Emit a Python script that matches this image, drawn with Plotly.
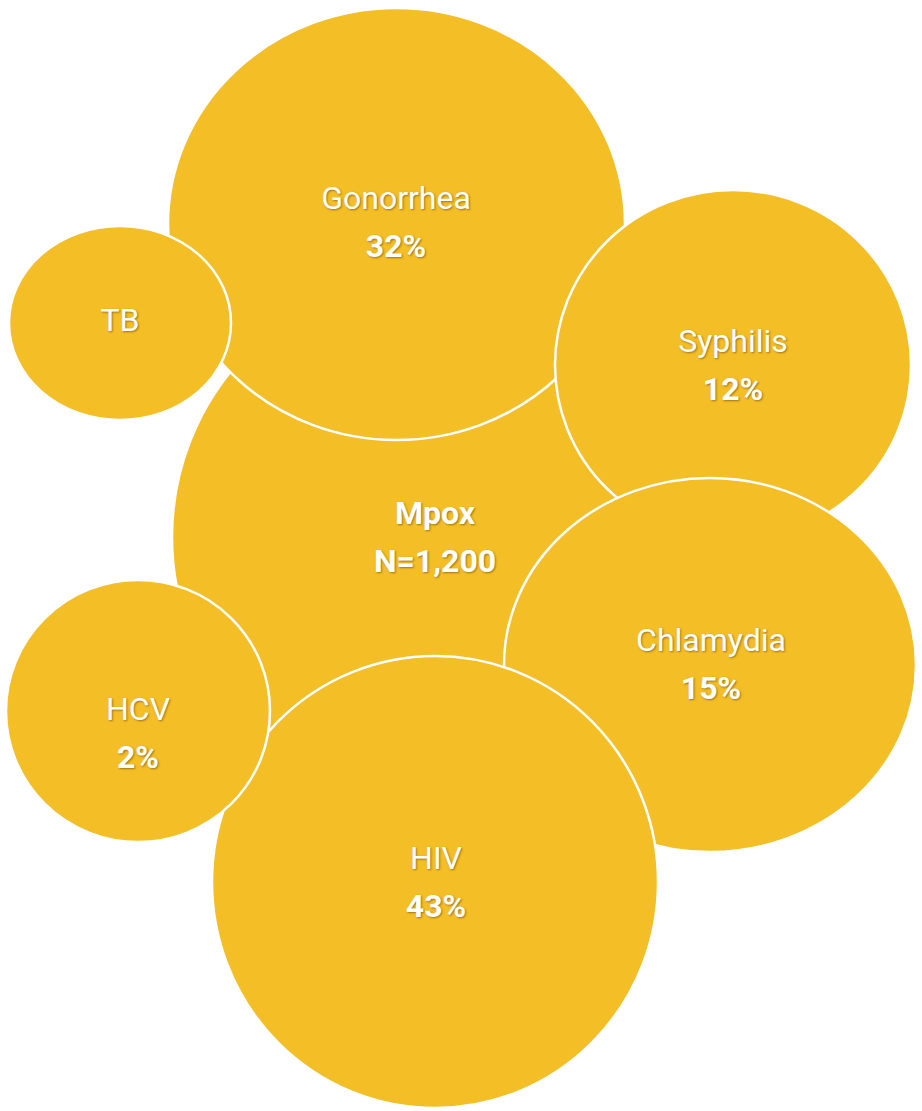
import plotly.graph_objects as go

# Data
names = ["Mpox", "Gonorrhea", "TB", "Syphilis", "Chlamydia", "HIV", "HCV"]
pct_labels = ["N=1,200", "32%", "", "12%", "15%", "43%", "2%"]
cx = [435, 396.5, 120, 733, 710, 435, 138]
cy = [537, 224, 323, 365, 665, 882, 711]
rx = [263, 228.5, 111, 178, 206, 223, 132]
ry = [263, 216, 97, 175, 187, 226, 131]
# label anchor (centre of the two text lines)
label_x = [435, 396, 120, 733, 711, 436, 138]
label_y = [540, 225, 323, 368, 667, 885, 736]

FILL = "#F4BE26"
W, H = 922, 1111

fig = go.Figure()

shapes = []
for i in range(len(names)):
    shapes.append(dict(
        type="circle", xref="x", yref="y",
        x0=cx[i] - rx[i], x1=cx[i] + rx[i],
        y0=cy[i] - ry[i], y1=cy[i] + ry[i],
        fillcolor=FILL, line=dict(color="white", width=2.5), layer="below",
    ))

shadow = "1px 1px 2px rgba(90,60,0,0.55)"
LS = 24
name_y = [label_y[i] - LS if pct_labels[i] else label_y[i] for i in range(len(names))]
name_text = ["<b>%s</b>" % n if n == "Mpox" else n for n in names]

fig.add_trace(go.Scatter(
    x=label_x, y=name_y, mode="text", text=name_text,
    textposition="middle center",
    textfont=dict(family="Roboto", size=32, color="white", shadow=shadow),
    hoverinfo="skip", showlegend=False,
))
px_, py_, pt_ = [], [], []
for i in range(len(names)):
    if pct_labels[i]:
        px_.append(label_x[i]); py_.append(label_y[i] + LS); pt_.append("<b>%s</b>" % pct_labels[i])
fig.add_trace(go.Scatter(
    x=px_, y=py_, mode="text", text=pt_,
    textposition="middle center",
    textfont=dict(family="Roboto", size=32, color="white", shadow=shadow),
    hoverinfo="skip", showlegend=False,
))

fig.update_layout(
    width=W, height=H, margin=dict(l=0, r=0, t=0, b=0),
    paper_bgcolor="white", plot_bgcolor="white",
    shapes=shapes,
    xaxis=dict(range=[0, W], visible=False, fixedrange=True),
    yaxis=dict(range=[H, 0], visible=False, fixedrange=True),
)
fig.write_html(
    "out.html",
    config={"displayModeBar": False},
    post_script="document.body.style.margin='0';document.body.style.overflow='hidden';",
)
